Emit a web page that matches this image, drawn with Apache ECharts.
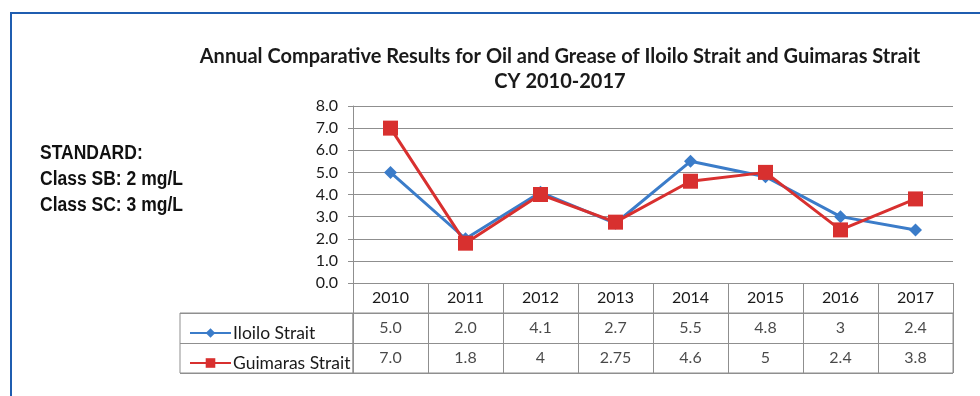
<!DOCTYPE html>
<html>
<head>
<meta charset="utf-8">
<script src="https://cdn.jsdelivr.net/npm/echarts@6/dist/echarts.min.js"></script>
<style>html,body{margin:0;padding:0;background:#fff}#c{width:980px;height:396px}</style>
</head>
<body>
<div id="c"></div>
<script>
var years = ['2010','2011','2012','2013','2014','2015','2016','2017'];
var iloilo = [5.0, 2.0, 4.1, 2.7, 5.5, 4.8, 3, 2.4];
var guimaras = [7.0, 1.8, 4, 2.75, 4.6, 5, 2.4, 3.8];
var iloiloText = ['5.0','2.0','4.1','2.7','5.5','4.8','3','2.4'];
var guimarasText = ['7.0','1.8','4','2.75','4.6','5','2.4','3.8'];
var seriesNames = ['Iloilo Strait', 'Guimaras Strait'];

var BLUE = '#3b7cc9', RED = '#d8302f', GRIDC = '#8f8f8f', TXT = '#1a1a1a';
var FONT = 'Lato';

var chart = echarts.init(document.getElementById('c'));
var tableData = [];
years.forEach(function (y, i) {
  tableData.push({ value: [y, seriesNames[0]], t: iloiloText[i] });
  tableData.push({ value: [y, seriesNames[1]], t: guimarasText[i] });
});

chart.setOption({
  backgroundColor: '#fff',
  animation: false,
  title: {
    text: 'Annual Comparative Results for Oil and Grease of Iloilo Strait and Guimaras Strait\nCY 2010-2017',
    left: 555, top: 39, textAlign: 'center',
    textStyle: { fontFamily: FONT, fontWeight: 'bold', fontSize: 20, lineHeight: 25, color: TXT }
  },
  graphic: [
    { type: 'rect', shape: { x: 11, y: 13, width: 1000, height: 500 }, style: { fill: 'none', stroke: '#1f5db0', lineWidth: 2 }, silent: true },
    { type: 'text', x: 40, y: 140, scaleX: 0.875, style: { text: 'STANDARD:\nClass SB: 2 mg/L\nClass SC: 3 mg/L', fontFamily: 'Liberation Sans', fontWeight: 'bold', fontSize: 20, lineHeight: 26, fill: '#111' } }
  ],
  legend: {
    data: seriesNames, orient: 'vertical', left: 184, top: 319,
    itemWidth: 41, itemHeight: 12, itemGap: 12,
    textStyle: { fontFamily: FONT, fontSize: 17.5, lineHeight: 18, color: TXT, padding: [0,0,0,-3] }
  },
  grid: [
    { left: 353, right: 27, top: 106, height: 177 },
    { left: 353, right: 27, top: 313, height: 60, show: true, borderColor: GRIDC, borderWidth: 1 },
    { left: 180, width: 173, top: 313, height: 60, show: true, borderColor: GRIDC, borderWidth: 1 }
  ],
  xAxis: [
    { gridIndex: 0, type: 'category', data: years, boundaryGap: true,
      axisLine: { lineStyle: { color: GRIDC } },
      axisTick: { show: true, length: 30, lineStyle: { color: GRIDC } },
      axisLabel: { fontFamily: FONT, fontSize: 16, color: TXT, margin: 7 } },
    { gridIndex: 1, type: 'category', data: years, boundaryGap: true,
      axisLine: { show: false }, axisTick: { show: false }, axisLabel: { show: false },
      splitLine: { show: true, lineStyle: { color: GRIDC } } },
    { gridIndex: 2, type: 'category', data: [''], axisLine: { show: false }, axisTick: { show: false }, axisLabel: { show: false } }
  ],
  yAxis: [
    { gridIndex: 0, type: 'value', min: 0, max: 8, interval: 1,
      axisLine: { show: true, lineStyle: { color: GRIDC } },
      axisTick: { show: true, length: 5, lineStyle: { color: GRIDC } },
      axisLabel: { fontFamily: FONT, fontSize: 16, color: TXT, margin: 15, formatter: function (v) { return v.toFixed(1); } },
      splitLine: { lineStyle: { color: GRIDC, width: 1 } } },
    { gridIndex: 1, type: 'category', data: seriesNames, inverse: true, boundaryGap: true,
      axisLine: { show: false }, axisTick: { show: false }, axisLabel: { show: false },
      splitLine: { show: true, lineStyle: { color: GRIDC } } },
    { gridIndex: 2, type: 'category', data: seriesNames, inverse: true, boundaryGap: true,
      axisLine: { show: false }, axisTick: { show: false }, axisLabel: { show: false },
      splitLine: { show: true, lineStyle: { color: GRIDC } } }
  ],
  series: [
    { name: seriesNames[0], type: 'line', xAxisIndex: 0, yAxisIndex: 0, data: iloilo,
      symbol: 'diamond', symbolSize: 13, color: BLUE,
      lineStyle: { width: 3, color: BLUE }, itemStyle: { color: BLUE }, z: 3 },
    { name: seriesNames[1], type: 'line', xAxisIndex: 0, yAxisIndex: 0, data: guimaras,
      symbol: 'rect', symbolSize: 15, color: RED,
      lineStyle: { width: 3, color: RED }, itemStyle: { color: RED }, z: 4 },
    { name: 'table', type: 'scatter', xAxisIndex: 1, yAxisIndex: 1, data: tableData,
      symbolSize: 0, silent: true,
      label: { show: true, position: 'inside', fontFamily: FONT, fontSize: 16, color: TXT,
        formatter: function (p) { return p.data.t; } } }
  ]
});
</script>
</body>
</html>
